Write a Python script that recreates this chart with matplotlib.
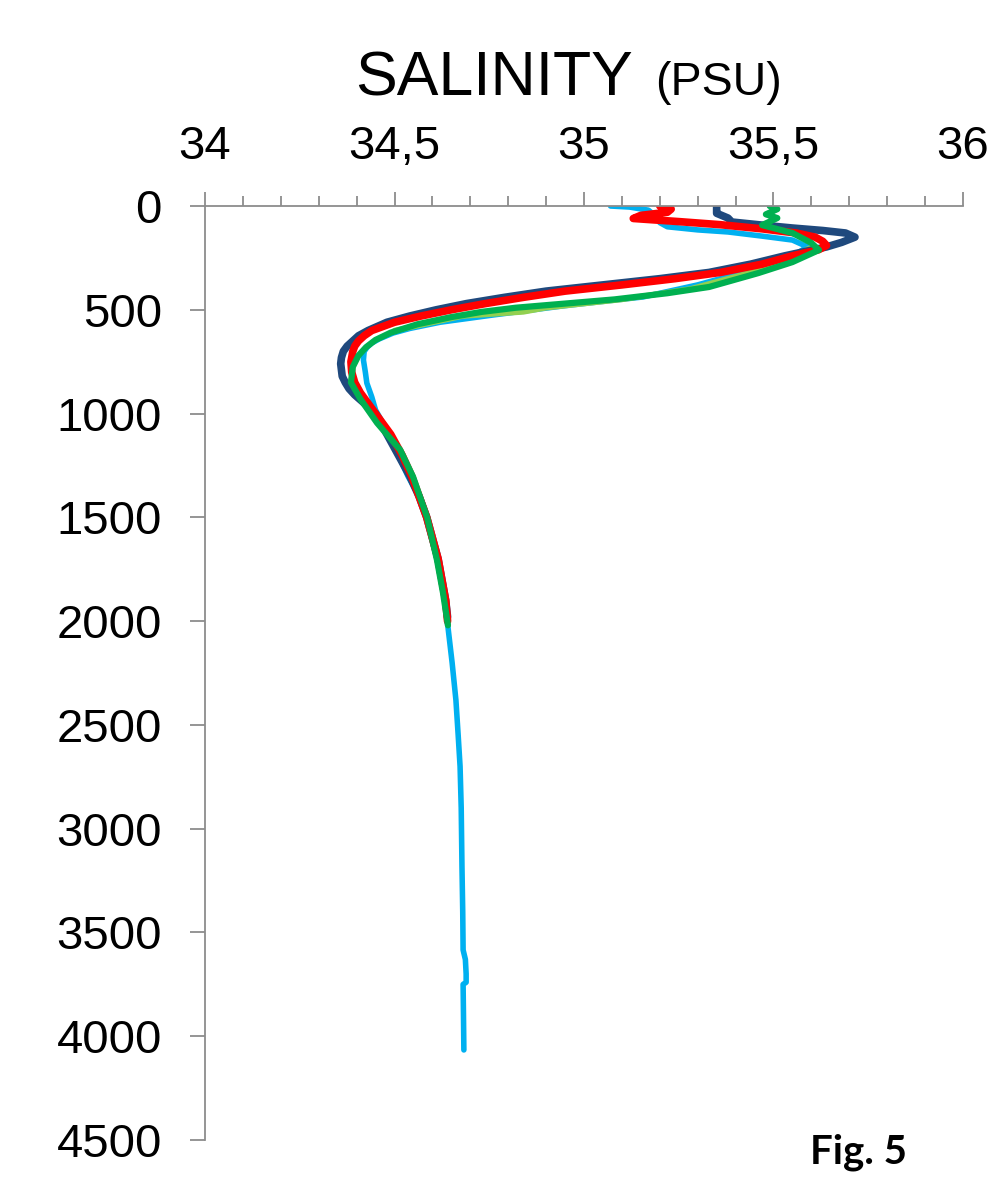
import matplotlib
matplotlib.use("Agg")
import matplotlib.pyplot as plt
from matplotlib.ticker import MultipleLocator, FuncFormatter

plt.rcParams['font.family'] = ['Liberation Sans', 'DejaVu Sans']

# CTD salinity profiles, depth in m, salinity in PSU
dkblue_depth = [0, 20, 35, 58, 77, 92, 106, 118, 130, 150, 175, 197, 240, 280, 320, 350, 380,
                410, 440, 470, 500, 530, 560, 600, 625, 650, 675, 700, 730, 760, 790, 820, 850,
                880, 910, 950, 1000, 1100, 1200, 1300, 1400, 1500, 1600, 1700, 1800, 1900, 1980]
dkblue_sal = [35.35, 35.35, 35.35, 35.38, 35.39, 35.47, 35.55, 35.63, 35.69, 35.715, 35.68, 35.64,
              35.53, 35.44, 35.33, 35.20, 35.05, 34.90, 34.79, 34.69, 34.61, 34.54, 34.48, 34.43,
              34.405, 34.39, 34.375, 34.365, 34.36, 34.358, 34.36, 34.362, 34.37, 34.38, 34.395,
              34.42, 34.45, 34.48, 34.51, 34.54, 34.565, 34.585, 34.60, 34.615, 34.625, 34.635,
              34.64]

ltblue_depth = [0, 5, 20, 50, 80, 100, 115, 125, 145, 164, 197, 230, 270, 320, 380, 438, 480,
                525, 560, 590, 612, 640, 660, 680, 700, 742, 800, 853, 920, 983, 1080, 1200, 1300,
                1400, 1500, 1600, 1700, 1800, 1900, 2028, 2200, 2380, 2550, 2700, 2900, 3184,
                3400, 3584, 3630, 3700, 3740, 3750, 3900, 4066]
ltblue_sal = [35.07, 35.12, 35.17, 35.19, 35.20, 35.22, 35.30, 35.38, 35.47, 35.55, 35.59, 35.56,
              35.50, 35.42, 35.30, 35.156, 34.95, 34.76, 34.62, 34.54, 34.496, 34.46, 34.44,
              34.428, 34.42, 34.418, 34.423, 34.427, 34.44, 34.45, 34.48, 34.51, 34.535, 34.565,
              34.585, 34.60, 34.612, 34.625, 34.632, 34.641, 34.652, 34.662, 34.668, 34.673,
              34.676, 34.678, 34.680, 34.681, 34.687, 34.689, 34.689, 34.681, 34.682, 34.683]

red_depth = [0, 15, 30, 45, 60, 75, 90, 110, 130, 150, 170, 190, 210, 240, 280, 320, 350, 380,
             410, 440, 470, 500, 530, 560, 600, 625, 650, 675, 700, 750, 800, 850, 900, 950, 1000,
             1050, 1100, 1200, 1300, 1400, 1500, 1600, 1700, 1800, 1900, 2000]
red_sal = [35.20, 35.23, 35.22, 35.15, 35.13, 35.25, 35.36, 35.47, 35.56, 35.61, 35.63, 35.64,
           35.62, 35.55, 35.47, 35.36, 35.24, 35.10, 34.95, 34.84, 34.74, 34.65, 34.57, 34.50,
           34.44, 34.42, 34.405, 34.395, 34.39, 34.385, 34.387, 34.395, 34.41, 34.43, 34.45,
           34.47, 34.49, 34.52, 34.545, 34.565, 34.585, 34.60, 34.615, 34.625, 34.635, 34.64]

ltgreen_depth = [200, 300, 400, 450, 490, 500, 510, 530, 600]
ltgreen_sal = [35.60, 35.48, 35.28, 35.10, 34.90, 34.87, 34.84, 34.68, 34.50]

green_depth = [0, 15, 40, 58, 92, 130, 178, 212, 270, 323, 390, 420, 450, 470, 490, 510, 535,
               570, 610, 645, 680, 720, 775, 850, 930, 1045, 1175, 1305, 1500, 1705, 1864, 2020]
green_sal = [35.49, 35.51, 35.48, 35.51, 35.47, 35.55, 35.60, 35.62, 35.55, 35.46, 35.33, 35.22,
             35.08, 34.95, 34.82, 34.73, 34.65, 34.56, 34.49, 34.45, 34.425, 34.405, 34.39,
             34.385, 34.41, 34.454, 34.515, 34.549, 34.586, 34.612, 34.628, 34.641]

x_ticks = [34, 34.5, 35, 35.5, 36]
y_ticks = [0, 500, 1000, 1500, 2000, 2500, 3000, 3500, 4000, 4500]

fig = plt.figure(figsize=(9.89, 11.82), dpi=100)
ax = fig.add_axes([0.2073, 0.0355, 0.7664, 0.7902])

ax.plot(ltblue_sal, ltblue_depth, color='#00B0F0', lw=4.0, solid_capstyle='round',
        solid_joinstyle='round')
ax.plot(ltgreen_sal, ltgreen_depth, color='#92D050', lw=4.0, solid_capstyle='round')
ax.plot(dkblue_sal, dkblue_depth, color='#1F497D', lw=5.5, solid_capstyle='round',
        solid_joinstyle='round')
ax.plot(red_sal, red_depth, color='#FF0000', lw=5.5, solid_capstyle='round',
        solid_joinstyle='round')
ax.plot(green_sal, green_depth, color='#00B050', lw=4.5, solid_capstyle='round',
        solid_joinstyle='round')

ax.set_xlim(34, 36)
ax.set_ylim(4500, 0)
ax.set_xticks(x_ticks)
ax.set_yticks(y_ticks)
ax.xaxis.set_minor_locator(MultipleLocator(0.1))
ax.xaxis.set_major_formatter(FuncFormatter(lambda v, p: f"{v:g}".replace('.', ',')))
ax.xaxis.tick_top()

for side in ['right', 'bottom']:
    ax.spines[side].set_visible(False)
for side in ['left', 'top']:
    ax.spines[side].set_color('#8C8C8C')
    ax.spines[side].set_linewidth(1.3)

ax.tick_params(axis='x', which='major', direction='out', length=10, width=1.3,
               color='#8C8C8C', labelsize=34, pad=17)
ax.tick_params(axis='x', which='minor', direction='out', length=7, width=1.3, color='#8C8C8C')
ax.tick_params(axis='y', which='major', direction='out', length=11, width=1.3,
               color='#8C8C8C', labelsize=34, pad=20)

fig.text(0.359, 0.9196, 'SALINITY', fontsize=45, ha='left', va='baseline')
fig.text(0.662, 0.9196, '(PSU)', fontsize=33.5, ha='left', va='baseline')
fig.text(0.819, 0.016, 'Fig. 5', fontsize=29, fontweight='bold', family=['Lato', 'DejaVu Sans'],
         ha='left', va='baseline')

fig.savefig('out.png', dpi=100)
